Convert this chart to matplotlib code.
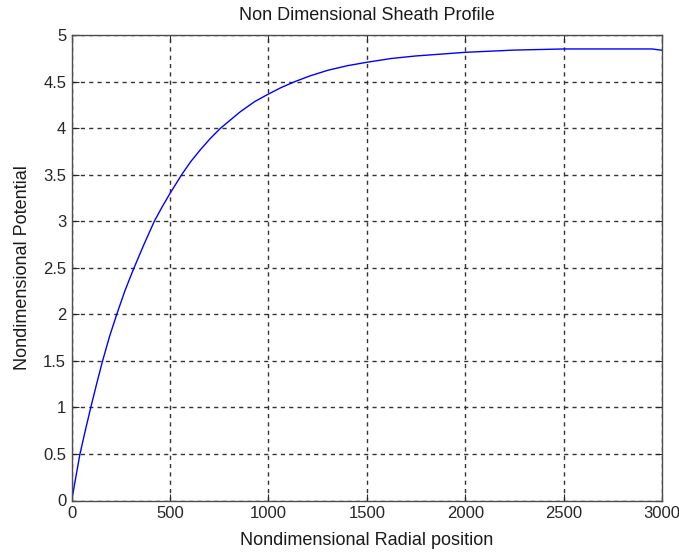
import matplotlib
matplotlib.use("Agg")
import matplotlib.pyplot as plt
from matplotlib.ticker import FuncFormatter

# Data
radial_position = [0, 20, 42, 70, 97, 127, 157, 192, 229, 270, 313, 365, 420, 460, 500,
                   559, 605, 653, 705, 757, 857, 930, 1000, 1065, 1135, 1210, 1300, 1400,
                   1500, 1625, 1750, 2000, 2250, 2500, 2950, 3000]
potential = [0, 0.24, 0.5, 0.76, 1.0, 1.255, 1.5, 1.76, 2.0, 2.25, 2.48, 2.74, 3.0, 3.155,
             3.30, 3.5, 3.64, 3.765, 3.89, 4.0, 4.176, 4.285, 4.366, 4.436, 4.5, 4.56,
             4.62, 4.67, 4.707, 4.748, 4.775, 4.814, 4.838, 4.85, 4.85, 4.836]
x_ticks = [0, 500, 1000, 1500, 2000, 2500, 3000]
y_ticks = [0, 0.5, 1, 1.5, 2, 2.5, 3, 3.5, 4, 4.5, 5]

title_text = "Non Dimensional Sheath Profile"
x_label = "Nondimensional Radial position"
y_label = "Nondimensional Potential"

plt.rcParams['font.family'] = ['Liberation Sans', 'DejaVu Sans']

fig = plt.figure(figsize=(6.79, 5.52), dpi=100)
ax = fig.add_axes([71.7 / 679, 1 - 500.5 / 552, (662 - 71.7) / 679, (500.5 - 35) / 552])

ax.plot(radial_position, potential, color=(0, 0, 1), linewidth=1.0)

ax.set_xlim(0, 3000)
ax.set_ylim(0, 5)
ax.set_xticks(x_ticks)
ax.set_yticks(y_ticks)
ax.yaxis.set_major_formatter(FuncFormatter(lambda v, p: f"{v:g}"))
ax.xaxis.set_major_formatter(FuncFormatter(lambda v, p: f"{v:g}"))

ax.grid(True, color=(0.2, 0.2, 0.2), linestyle=(0, (3, 3)), linewidth=1.0)
ax.tick_params(direction='in', length=5, width=0.8, top=True, right=True,
               labelsize=12, colors=(0.15, 0.15, 0.15), pad=4)
for s in ax.spines.values():
    s.set_color((0.3, 0.3, 0.3))
    s.set_linewidth(1.0)

ax.set_title(title_text, fontsize=13, color=(0.1, 0.1, 0.1), pad=11)
ax.set_xlabel(x_label, fontsize=13, color=(0.1, 0.1, 0.1), labelpad=8)
ax.set_ylabel(y_label, fontsize=13, color=(0.1, 0.1, 0.1), labelpad=9)

fig.savefig("out.png", dpi=100, facecolor='white')
